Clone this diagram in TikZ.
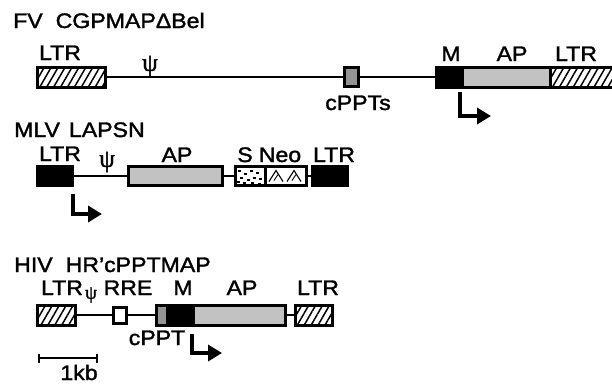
\documentclass[tikz,border=0pt]{standalone}
\usepackage{fontspec}
\setmainfont[FakeStretch=1.1,FakeBold=1.6]{Liberation Sans}
\newfontfamily\psifont[FakeBold=1.6]{Liberation Serif}
\usetikzlibrary{arrows.meta,patterns.meta}
\definecolor{apgray}{gray}{0.76}
\definecolor{pptgray}{gray}{0.58}
\tikzset{
  seg/.style={draw, line width=3pt, minimum height=20pt, inner sep=0pt, outer sep=0pt},
  hatched/.style={seg, pattern={Lines[angle=60,distance=6pt,line width=1.5pt]}},
  solidblk/.style={seg, fill=black},
  apbox/.style={seg, fill=apgray},
  pptbox/.style={seg, fill=pptgray},
  plainbox/.style={seg, fill=white},
  backbone/.style={line width=2pt},
  promoter/.style={line width=3.8pt, -{Triangle[length=14pt,width=16pt]}},
  lbl/.style={inner sep=0pt, anchor=base, font=\fontsize{21}{21}\selectfont},
  ttl/.style={inner sep=0pt, anchor=base west, font=\fontsize{21}{21}\selectfont},
  psilbl/.style={inner sep=0pt, font=\psifont\fontsize{25}{25}\selectfont},
  scalebar/.style={line width=2.4pt, {Bar[width=9pt]}-{Bar[width=9pt]}}
}
\begin{document}
\begin{tikzpicture}[x=1pt,y=-1pt]
  \fill[white] (0,0) rectangle (612,384);
  \useasboundingbox (0,0) rectangle (612,384);

  % ---------- FV vector ----------
  \node[ttl] (fvtitle) at (13,28) {FV\hspace{13pt}CGPMAP\symbol{"0394}Bel};
  \node[hatched, minimum width=68pt] (fvltrA) at (71,77) {};
  \node[pptbox, minimum width=14pt, minimum height=19pt] (fvppt) at (351,77) {};
  \node[solidblk, minimum width=26pt] (fvm) at (449,77) {};
  \node[apbox, minimum width=88pt] (fvap) at (506,77) {};
  \node[hatched, minimum width=72pt] (fvltrB) at (586,77) {};
  \draw[backbone] (fvltrA.east) -- (fvppt.west);
  \draw[backbone] (fvppt.east) -- (fvm.west);
  \node[lbl] (fvltrAl) at (60,60) {LTR};
  \node[psilbl] (fvpsi) at (150,66) {ψ};
  \node[lbl] (fvpptl) at (358,110) {cPPTs};
  \node[lbl] (fvml) at (451,61) {M};
  \node[lbl] (fvapl) at (512,61) {AP};
  \node[lbl] (fvltrBl) at (576,61) {LTR};
  \coordinate (fvps) at (460,92);
  \coordinate (fvpe) at (491,116);
  \draw[promoter] (fvps) |- (fvpe);

  % ---------- MLV vector ----------
  \node[ttl] (mlvtitle) at (14,137) {MLV\hspace{9pt}LAPSN};
  \node[solidblk, minimum width=35pt, minimum height=19pt] (mlvltrA) at (54.5,176) {};
  \node[apbox, minimum width=94pt, minimum height=19pt] (mlvap) at (175,176) {};
  \node[plainbox, minimum width=30pt, minimum height=19pt] (mlvs) at (250,176) {};
  \node[plainbox, minimum width=41pt, minimum height=19pt] (mlvneo) at (285.5,176) {};
  \node[solidblk, minimum width=35pt, minimum height=19pt] (mlvltrB) at (329.5,176) {};
  % dotted fill of the S block
  \foreach \px/\py in {3/3,9/6,15/3,21/5,5/10,12/12,18/10,24/11,2/14,8/15,16/15,23/16}
    \fill (mlvs.north west) ++(\px,\py) rectangle ++(3.4,2.8);
  \draw[line width=3pt] (mlvs.north west) rectangle (mlvs.south east);
  % triangle fill of the Neo block
  \foreach \tx in {4,22}
    \draw[line width=1.1pt] (mlvneo.north west) ++(\tx,15) -- ++(7,-11) -- ++(7,11);
  \foreach \tx in {9,27}
    \draw[line width=0.9pt] (mlvneo.north west) ++(\tx,14) -- ++(4,-6);
  \draw[backbone] (mlvltrA.east) -- (mlvap.west);
  \draw[backbone] (mlvap.east) -- (mlvs.west);
  \draw[backbone] (mlvneo.east) -- (mlvltrB.west);
  \node[lbl] (mlvltrAl) at (60,161) {LTR};
  \node[psilbl] (mlvpsi) at (107,162) {ψ};
  \node[lbl] (mlvapl) at (177,162) {AP};
  \node[lbl] (mlvsl) at (245,162) {S};
  \node[lbl] (mlvneol) at (280,162) {Neo};
  \node[lbl] (mlvltrBl) at (334,162) {LTR};
  \coordinate (mlvps) at (73,194);
  \coordinate (mlvpe) at (102,214);
  \draw[promoter] (mlvps) |- (mlvpe);

  % ---------- HIV vector ----------
  \node[ttl] (hivtitle) at (14,272) {HIV\hspace{13pt}HR’cPPTMAP};
  \node[hatched, minimum width=38pt] (hivltrA) at (56,315) {};
  \node[plainbox, minimum width=13pt, minimum height=16pt] (hivrre) at (119.5,315) {};
  \node[pptbox, minimum width=11pt] (hivppt) at (161.5,315) {};
  \node[solidblk, minimum width=26pt] (hivm) at (180,315) {};
  \node[apbox, minimum width=92pt] (hivap) at (239,315) {};
  \node[hatched, minimum width=37pt] (hivltrB) at (313.5,315) {};
  \draw[backbone] (hivltrA.east) -- (hivrre.west);
  \draw[backbone] (hivrre.east) -- (hivppt.west);
  \draw[backbone] (hivap.east) -- (hivltrB.west);
  \node[lbl] (hivltrAl) at (62,295) {LTR};
  \node[psilbl, font=\psifont\fontsize{19}{19}\selectfont] (hivpsi) at (91,295) {ψ};
  \node[lbl] (hivrrel) at (128,295) {RRE};
  \node[lbl] (hivml) at (183,295) {M};
  \node[lbl] (hivapl) at (242,295) {AP};
  \node[lbl] (hivltrBl) at (318,295) {LTR};
  \node[lbl] (hivpptl) at (157,345) {cPPT};
  \coordinate (hivps) at (192,334);
  \coordinate (hivpe) at (222,353);
  \draw[promoter] (hivps) |- (hivpe);

  % ---------- scale bar ----------
  \coordinate (sbl) at (38,358);
  \coordinate (sbr) at (98,358);
  \draw[scalebar] (sbl) -- (sbr);
  \node[lbl] (sblabel) at (79,380) {1kb};
\end{tikzpicture}
\end{document}
